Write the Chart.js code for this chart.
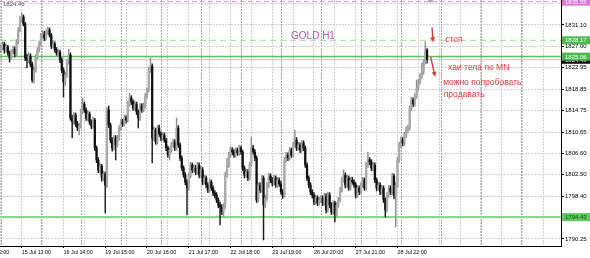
<!DOCTYPE html>
<html>
<head>
<meta charset="utf-8">
<script src="https://cdn.jsdelivr.net/npm/chart.js@4.4.1/dist/chart.umd.min.js"></script>
<style>
  html, body { margin: 0; padding: 0; background: #fff; }
  #chart { display: block; }
</style>
</head>
<body>
<canvas id="chart" width="590" height="258"></canvas>
<script>
// GOLD H1 candles, one per hour
const opens = [
  1826.20, 1826.70, 1827.46, 1826.32, 1826.89, 1825.75, 1824.79, 1825.94, 1826.51, 1825.55,
  1827.84, 1830.13, 1832.04, 1832.62, 1831.28, 1824.79, 1824.41, 1825.17, 1823.65, 1820.59,
  1822.50, 1824.98, 1826.32, 1827.46, 1828.99, 1829.37, 1828.61, 1829.75, 1830.13, 1829.18,
  1827.08, 1827.46, 1826.32, 1825.75, 1825.94, 1824.41, 1822.50, 1820.21, 1821.55, 1824.03,
  1825.36, 1813.34, 1812.58, 1813.91, 1812.20, 1811.43, 1811.81, 1814.49, 1816.01, 1814.87,
  1813.34, 1814.10, 1812.58, 1811.81, 1812.96, 1807.62, 1805.33, 1803.42, 1804.18, 1801.89,
  1802.65, 1800.55, 1814.87, 1812.00, 1809.14, 1807.62, 1809.52, 1808.19, 1809.52, 1811.43,
  1812.58, 1812.20, 1813.34, 1812.96, 1816.01, 1817.16, 1816.39, 1815.25, 1816.01, 1814.49,
  1813.34, 1815.63, 1814.87, 1815.63, 1817.54, 1818.68, 1822.50, 1823.26, 1809.52, 1811.05,
  1808.76, 1811.43, 1810.29, 1809.52, 1810.10, 1809.14, 1807.62, 1806.28, 1807.23, 1808.19,
  1808.76, 1807.62, 1811.43, 1808.19, 1805.71, 1803.80, 1802.46, 1801.13, 1799.98, 1802.27,
  1804.37, 1803.42, 1803.80, 1803.04, 1804.37, 1802.46, 1803.42, 1801.13, 1801.89, 1800.55,
  1799.60, 1801.13, 1799.98, 1799.03, 1798.65, 1797.69, 1796.74, 1796.36, 1795.40, 1796.55,
  1802.46, 1804.37, 1806.28, 1807.23, 1806.85, 1806.28, 1807.23, 1806.66, 1807.62, 1806.85,
  1803.80, 1802.46, 1803.04, 1801.89, 1804.37, 1807.62, 1806.85, 1805.71, 1797.69, 1800.55,
  1799.60, 1801.89, 1796.74, 1798.07, 1800.55, 1802.27, 1801.51, 1800.94, 1801.89, 1800.55,
  1801.51, 1800.75, 1799.22, 1798.65, 1805.33, 1806.28, 1805.71, 1807.23, 1806.28, 1808.19,
  1809.14, 1807.62, 1808.19, 1807.23, 1808.57, 1807.62, 1804.37, 1801.89, 1800.55, 1799.22,
  1798.65, 1797.31, 1798.07, 1797.12, 1797.69, 1798.07, 1797.12, 1798.46, 1795.78, 1798.65,
  1796.74, 1795.40, 1797.12, 1795.02, 1796.74, 1797.69, 1799.60, 1801.51, 1802.46, 1800.55,
  1801.89, 1799.98, 1801.51, 1801.13, 1800.55, 1798.65, 1799.98, 1799.22, 1800.55, 1801.51,
  1799.98, 1804.37, 1805.33, 1804.94, 1803.80, 1804.37, 1801.51, 1799.98, 1800.55, 1799.22,
  1799.98, 1797.69, 1795.78, 1798.65, 1799.98, 1799.22, 1802.27, 1798.46, 1800.55, 1805.33,
  1808.19, 1809.14, 1808.57, 1810.10, 1811.05, 1811.43, 1815.25, 1816.78, 1816.01, 1817.54,
  1819.07, 1820.21, 1821.36, 1822.12, 1824.03, 1826.32
];
const highs = [
  1827.30, 1827.90, 1827.80, 1827.50, 1827.20, 1826.10, 1826.40, 1827.10, 1826.90, 1828.30,
  1830.60, 1832.70, 1833.38, 1833.00, 1831.60, 1825.50, 1825.80, 1825.60, 1824.00, 1823.00,
  1825.40, 1826.80, 1828.00, 1829.50, 1830.00, 1829.90, 1830.20, 1830.71, 1830.50, 1829.50,
  1828.00, 1827.90, 1826.80, 1826.50, 1826.30, 1824.80, 1822.90, 1822.10, 1824.50, 1826.51,
  1825.80, 1813.90, 1814.40, 1814.30, 1812.70, 1812.30, 1815.00, 1817.16, 1816.40, 1815.30,
  1814.70, 1814.50, 1813.00, 1813.50, 1813.30, 1808.00, 1805.80, 1804.80, 1804.50, 1803.20,
  1803.00, 1815.40, 1815.63, 1812.40, 1809.60, 1810.00, 1810.00, 1810.00, 1811.90, 1813.10,
  1813.10, 1813.90, 1813.80, 1816.50, 1818.11, 1817.60, 1816.80, 1816.60, 1816.40, 1814.90,
  1816.10, 1816.10, 1816.20, 1818.00, 1819.07, 1823.00, 1824.79, 1823.70, 1811.60, 1811.40,
  1811.90, 1812.00, 1810.70, 1810.60, 1810.50, 1809.50, 1808.00, 1807.70, 1808.70, 1809.30,
  1809.20, 1813.34, 1811.90, 1808.60, 1806.10, 1804.20, 1802.90, 1801.60, 1802.80, 1804.90,
  1804.80, 1804.40, 1804.30, 1804.90, 1804.80, 1804.00, 1803.90, 1802.40, 1802.30, 1801.00,
  1801.70, 1801.50, 1800.40, 1799.50, 1799.10, 1798.10, 1797.30, 1796.80, 1797.00, 1803.00,
  1805.71, 1806.80, 1807.81, 1807.70, 1807.30, 1807.70, 1807.60, 1808.19, 1808.00, 1807.20,
  1804.20, 1803.60, 1803.50, 1804.90, 1809.71, 1808.10, 1807.30, 1806.10, 1801.00, 1801.00,
  1802.40, 1802.30, 1798.60, 1801.00, 1802.80, 1802.70, 1802.00, 1802.40, 1802.30, 1802.00,
  1801.90, 1801.20, 1799.70, 1805.80, 1806.80, 1806.70, 1807.70, 1807.60, 1808.70, 1811.05,
  1809.60, 1808.70, 1808.60, 1809.10, 1809.00, 1808.00, 1804.80, 1802.30, 1801.00, 1799.70,
  1799.10, 1798.60, 1798.50, 1798.20, 1798.60, 1798.50, 1799.00, 1798.90, 1799.20, 1799.10,
  1797.20, 1797.60, 1797.50, 1797.20, 1798.20, 1800.10, 1802.00, 1803.42, 1802.90, 1802.40,
  1802.30, 1802.00, 1802.08, 1801.60, 1801.00, 1800.50, 1800.40, 1801.00, 1802.00, 1801.90,
  1804.90, 1806.85, 1805.80, 1805.40, 1804.90, 1804.80, 1801.90, 1801.10, 1801.00, 1800.50,
  1800.40, 1798.10, 1799.10, 1800.50, 1800.40, 1802.80, 1802.70, 1801.00, 1805.80, 1808.70,
  1809.70, 1809.60, 1810.60, 1811.60, 1812.00, 1815.70, 1817.30, 1817.20, 1818.00, 1820.59,
  1820.70, 1821.80, 1823.84, 1824.50, 1827.90, 1826.60
];
const lows = [
  1825.80, 1826.30, 1825.70, 1825.90, 1825.30, 1824.00, 1824.50, 1825.60, 1825.00, 1825.20,
  1827.50, 1829.80, 1831.60, 1830.90, 1824.30, 1822.90, 1823.90, 1823.10, 1820.20, 1820.00,
  1822.10, 1824.60, 1825.90, 1827.10, 1828.50, 1828.10, 1828.20, 1829.30, 1828.80, 1826.60,
  1826.70, 1825.90, 1825.30, 1825.20, 1823.90, 1822.00, 1817.35, 1819.60, 1821.10, 1823.60,
  1812.90, 1809.52, 1812.10, 1811.70, 1810.90, 1810.10, 1811.40, 1814.10, 1814.40, 1812.90,
  1812.80, 1812.10, 1811.30, 1811.40, 1807.10, 1804.80, 1802.90, 1802.80, 1801.30, 1801.40,
  1795.21, 1800.10, 1811.50, 1808.60, 1807.00, 1807.20, 1805.33, 1807.80, 1809.10, 1811.00,
  1811.70, 1811.80, 1812.40, 1812.60, 1815.60, 1815.90, 1814.80, 1814.80, 1814.00, 1811.43,
  1812.90, 1814.40, 1814.50, 1815.20, 1817.10, 1818.30, 1822.00, 1804.75, 1809.00, 1808.30,
  1808.40, 1809.80, 1809.00, 1809.10, 1808.70, 1807.10, 1805.80, 1805.33, 1806.80, 1807.80,
  1807.10, 1807.20, 1807.70, 1805.20, 1803.30, 1802.00, 1800.60, 1794.83, 1799.50, 1801.90,
  1802.90, 1803.00, 1802.50, 1802.60, 1801.90, 1802.00, 1800.60, 1800.70, 1800.00, 1799.10,
  1799.20, 1799.50, 1798.50, 1798.10, 1797.20, 1796.20, 1792.92, 1794.90, 1794.45, 1796.10,
  1802.00, 1803.90, 1805.80, 1806.30, 1805.80, 1805.90, 1806.20, 1806.20, 1806.40, 1803.30,
  1801.90, 1802.00, 1801.40, 1801.50, 1804.00, 1806.40, 1805.20, 1797.20, 1797.30, 1799.10,
  1799.20, 1790.06, 1796.20, 1797.60, 1800.10, 1801.00, 1800.40, 1800.50, 1800.10, 1800.10,
  1800.30, 1798.80, 1798.00, 1798.20, 1804.90, 1805.20, 1805.30, 1805.80, 1805.90, 1807.80,
  1807.10, 1807.20, 1806.70, 1806.80, 1807.10, 1803.90, 1801.40, 1800.00, 1798.70, 1798.10,
  1796.80, 1796.90, 1796.60, 1796.70, 1797.20, 1796.60, 1796.70, 1795.20, 1795.40, 1796.20,
  1794.90, 1795.00, 1793.49, 1794.60, 1796.30, 1797.30, 1799.20, 1801.10, 1800.00, 1800.10,
  1799.50, 1799.60, 1800.70, 1800.10, 1798.10, 1798.20, 1798.70, 1798.80, 1800.10, 1799.50,
  1799.60, 1803.90, 1804.40, 1803.30, 1803.30, 1801.00, 1799.40, 1799.50, 1798.70, 1798.80,
  1797.20, 1794.45, 1795.40, 1798.20, 1798.70, 1798.80, 1797.90, 1792.54, 1800.10, 1804.90,
  1807.70, 1808.00, 1808.10, 1809.60, 1810.50, 1811.00, 1814.80, 1815.50, 1815.60, 1817.10,
  1818.60, 1819.80, 1820.90, 1821.70, 1823.60, 1823.80
];
const closes = [
  1826.70, 1827.46, 1826.32, 1826.89, 1825.75, 1824.79, 1825.94, 1826.51, 1825.55, 1827.84,
  1830.13, 1832.04, 1832.62, 1831.28, 1824.79, 1824.41, 1825.17, 1823.65, 1820.59, 1822.50,
  1824.98, 1826.32, 1827.46, 1828.99, 1829.37, 1828.61, 1829.75, 1830.13, 1829.18, 1827.08,
  1827.46, 1826.32, 1825.75, 1825.94, 1824.41, 1822.50, 1820.21, 1821.55, 1824.03, 1825.36,
  1813.34, 1812.58, 1813.91, 1812.20, 1811.43, 1811.81, 1814.49, 1816.01, 1814.87, 1813.34,
  1814.10, 1812.58, 1811.81, 1812.96, 1807.62, 1805.33, 1803.42, 1804.18, 1801.89, 1802.65,
  1800.55, 1814.87, 1812.00, 1809.14, 1807.62, 1809.52, 1808.19, 1809.52, 1811.43, 1812.58,
  1812.20, 1813.34, 1812.96, 1816.01, 1817.16, 1816.39, 1815.25, 1816.01, 1814.49, 1813.34,
  1815.63, 1814.87, 1815.63, 1817.54, 1818.68, 1822.50, 1823.26, 1809.52, 1811.05, 1808.76,
  1811.43, 1810.29, 1809.52, 1810.10, 1809.14, 1807.62, 1806.28, 1807.23, 1808.19, 1808.76,
  1807.62, 1811.43, 1808.19, 1805.71, 1803.80, 1802.46, 1801.13, 1799.98, 1802.27, 1804.37,
  1803.42, 1803.80, 1803.04, 1804.37, 1802.46, 1803.42, 1801.13, 1801.89, 1800.55, 1799.60,
  1801.13, 1799.98, 1799.03, 1798.65, 1797.69, 1796.74, 1796.36, 1795.40, 1796.55, 1802.46,
  1804.37, 1806.28, 1807.23, 1806.85, 1806.28, 1807.23, 1806.66, 1807.62, 1806.85, 1803.80,
  1802.46, 1803.04, 1801.89, 1804.37, 1807.62, 1806.85, 1805.71, 1797.69, 1800.55, 1799.60,
  1801.89, 1796.74, 1798.07, 1800.55, 1802.27, 1801.51, 1800.94, 1801.89, 1800.55, 1801.51,
  1800.75, 1799.22, 1798.65, 1805.33, 1806.28, 1805.71, 1807.23, 1806.28, 1808.19, 1809.14,
  1807.62, 1808.19, 1807.23, 1808.57, 1807.62, 1804.37, 1801.89, 1800.55, 1799.22, 1798.65,
  1797.31, 1798.07, 1797.12, 1797.69, 1798.07, 1797.12, 1798.46, 1795.78, 1798.65, 1796.74,
  1795.40, 1797.12, 1795.02, 1796.74, 1797.69, 1799.60, 1801.51, 1802.46, 1800.55, 1801.89,
  1799.98, 1801.51, 1801.13, 1800.55, 1798.65, 1799.98, 1799.22, 1800.55, 1801.51, 1799.98,
  1804.37, 1805.33, 1804.94, 1803.80, 1804.37, 1801.51, 1799.98, 1800.55, 1799.22, 1799.98,
  1797.69, 1795.78, 1798.65, 1799.98, 1799.22, 1802.27, 1798.46, 1800.55, 1805.33, 1808.19,
  1809.14, 1808.57, 1810.10, 1811.05, 1811.43, 1815.25, 1816.78, 1816.01, 1817.54, 1819.07,
  1820.21, 1821.36, 1822.12, 1824.03, 1826.32, 1824.46
];

// time axis: bar index of each label and its text
const xLabelIndex = [-12, 12, 36, 60, 84, 108, 132, 156, 180, 204, 228];
const xLabelText = ["14 Jul 12:00", "15 Jul 13:00", "16 Jul 14:00", "19 Jul 15:00", "20 Jul 16:00",
  "21 Jul 17:00", "22 Jul 18:00", "23 Jul 19:00", "26 Jul 20:00", "27 Jul 21:00", "28 Jul 22:00"];
// first bar of each trading day
const daySeparators = [0, 23, 46, 69, 92, 115, 138, 161, 184, 207, 230, 253, 276, 299];

// price axis
const yTicks = [1790.25, 1794.35, 1798.40, 1802.50, 1806.60, 1810.65, 1814.75, 1818.85, 1822.95, 1827.00, 1831.10, 1835.20];
const yTicksHidden = [1794.35, 1835.20];

// horizontal levels drawn on the chart
const levelPrices = [1835.55, 1828.17, 1825.06, 1794.43];
const bidPrice = 1824.46;

const X_MIN = -0.5, X_MAX = 322;
const Y_MIN = 1788.91, Y_MAX = 1835.86;
const RED = '#e03838';

const levelStyles = [
  { color: '#e38de3', width: 1, dash: [5, 3] },
  { color: '#9fd99f', width: 1, dash: [6, 4] },
  { color: '#5cbf5c', width: 1.5, dash: [] },
  { color: '#8ad88a', width: 2, dash: [] },
];
const labelStyles = [
  { bg: '#de6fde', fg: '#ffffff' },
  { bg: '#4cbb4c', fg: '#ffffff' },
  { bg: '#4cbb4c', fg: '#ffffff' },
  { bg: '#5cca5c', fg: '#1a3a1a' },
];

const isUp = closes.map((c, i) => c >= opens[i]);
const wickData = closes.map((c, i) => ({ x: i, y: [lows[i], highs[i]] }));
const bodyData = closes.map((c, i) => ({ x: i, y: [Math.min(opens[i], c), Math.max(opens[i], c)] }));

const levelSets = levelPrices.map((p, k) => ({
  type: 'line',
  data: [{ x: X_MIN, y: p }, { x: X_MAX, y: p }],
  borderColor: levelStyles[k].color,
  borderWidth: levelStyles[k].width,
  borderDash: levelStyles[k].dash,
  pointRadius: 0,
  order: 5,
}));
levelSets.push({
  type: 'line',
  data: [{ x: X_MIN, y: bidPrice }, { x: X_MAX, y: bidPrice }],
  borderColor: '#c8c8c8',
  borderWidth: 1,
  pointRadius: 0,
  order: 6,
});

const notes = [
  { text: 'GOLD H1', i: 166.8, p: 1829.0, color: '#c24fb0', size: 10 },
  { text: 'стоп', i: 255.4, p: 1828.25, color: RED, size: 8.5 },
  { text: 'хаи тела по MN', i: 257.1, p: 1823.0, color: RED, size: 8.5 },
  { text: 'можно попробовать', i: 254.3, p: 1820.05, color: RED, size: 8.5 },
  { text: 'продавать', i: 254.6, p: 1817.75, color: RED, size: 8.5 },
];
const arrows = [
  { i1: 247.9, p1: 1830.6, i2: 248.4, p2: 1827.8 },
  { i1: 247.1, p1: 1825.0, i2: 249.6, p2: 1821.2 },
];

function drawArrow(ctx, x1, y1, x2, y2) {
  const a = Math.atan2(y2 - y1, x2 - x1);
  const c = Math.cos(a), s = Math.sin(a);
  ctx.strokeStyle = RED;
  ctx.fillStyle = RED;
  ctx.lineWidth = 1.4;
  ctx.beginPath();
  ctx.moveTo(x1, y1);
  ctx.lineTo(x2 - 3 * c, y2 - 3 * s);
  ctx.stroke();
  ctx.beginPath();
  ctx.moveTo(x2, y2);
  ctx.lineTo(x2 - 5 * c + 2.4 * s, y2 - 5 * s - 2.4 * c);
  ctx.lineTo(x2 - 5 * c - 2.4 * s, y2 - 5 * s + 2.4 * c);
  ctx.closePath();
  ctx.fill();
}

const overlay = {
  id: 'overlay',
  beforeDatasetsDraw(chart) {
    const { ctx, chartArea: a, scales: { x } } = chart;
    ctx.save();
    ctx.strokeStyle = '#a8a8a8';
    ctx.lineWidth = 1;
    ctx.setLineDash([2, 1]);
    daySeparators.forEach(d => {
      const px = Math.round(x.getPixelForValue(d)) + 0.5;
      ctx.beginPath();
      ctx.moveTo(px, a.top);
      ctx.lineTo(px, a.bottom);
      ctx.stroke();
    });
    ctx.restore();
  },
  afterDraw(chart) {
    const { ctx, chartArea: a, scales: { x, y } } = chart;
    ctx.save();

    // price boxes on the right axis
    ctx.font = '6px "Liberation Sans"';
    ctx.textBaseline = 'middle';
    ctx.textAlign = 'left';
    const box = (p, bg, fg) => {
      const py = y.getPixelForValue(p);
      ctx.fillStyle = bg;
      ctx.fillRect(a.right + 1, py - 4, 28, 8);
      ctx.fillStyle = fg;
      ctx.fillText(p.toFixed(2), a.right + 4, py + 0.5);
    };
    box(bidPrice, '#000000', '#ffffff');
    levelPrices.forEach((p, k) => box(p, labelStyles[k].bg, labelStyles[k].fg));

    // top-left price tag
    ctx.fillStyle = '#555555';
    ctx.fillText(bidPrice.toFixed(2), a.left + 3, a.top + 4);

    // chart shift marker
    const sx = x.getPixelForValue(247);
    ctx.fillStyle = '#a8a8a8';
    ctx.beginPath();
    ctx.moveTo(sx - 3, a.top);
    ctx.lineTo(sx + 3, a.top);
    ctx.lineTo(sx, a.top + 3);
    ctx.closePath();
    ctx.fill();

    // text notes
    notes.forEach(n => {
      ctx.font = n.size + 'px "Liberation Sans"';
      ctx.fillStyle = n.color;
      ctx.fillText(n.text, x.getPixelForValue(n.i), y.getPixelForValue(n.p));
    });
    arrows.forEach(r => drawArrow(ctx,
      x.getPixelForValue(r.i1), y.getPixelForValue(r.p1),
      x.getPixelForValue(r.i2), y.getPixelForValue(r.p2)));
    ctx.restore();
  }
};

const config = {
  type: 'bar',
  data: {
    datasets: [
      ...levelSets,
      {
        label: 'wick',
        data: wickData,
        backgroundColor: isUp.map(u => (u ? '#8f8f8f' : '#1c1c1c')),
        barThickness: 0.8,
        grouped: false,
        order: 2,
      },
      {
        label: 'body',
        data: bodyData,
        backgroundColor: isUp.map(u => (u ? '#a9a9a9' : '#111111')),
        barThickness: 1.6,
        minBarLength: 1,
        grouped: false,
        order: 1,
      },
    ],
  },
  options: {
    responsive: false,
    animation: false,
    events: [],
    layout: { padding: 0 },
    plugins: {
      legend: { display: false },
      tooltip: { enabled: false },
    },
    scales: {
      x: {
        type: 'linear',
        min: X_MIN,
        max: X_MAX,
        bounds: 'data',
        offset: false,
        afterBuildTicks: (s) => {
          const t = [];
          for (let v = -12; v <= 312; v += 12) t.push({ value: v });
          s.ticks = t;
        },
        afterFit: (s) => {
          s.height = 12;
          s.paddingLeft = 0;
          s.paddingRight = 0;
        },
        grid: {
          offset: false,
          color: '#d0d0d0',
          lineWidth: 1,
          tickLength: 2,
          tickColor: (c) => (c.tick && xLabelIndex.includes(c.tick.value) ? '#000000' : 'rgba(0,0,0,0)'),
        },
        border: { display: true, color: '#000000', width: 1, dash: [2, 1] },
        ticks: {
          autoSkip: false,
          maxRotation: 0,
          align: 'start',
          padding: 1,
          color: '#000000',
          font: { family: 'Liberation Sans', size: 5.4 },
          callback: (v) => {
            const k = xLabelIndex.indexOf(v);
            return k >= 0 ? xLabelText[k] : '';
          },
        },
      },
      y: {
        type: 'linear',
        position: 'right',
        min: Y_MIN,
        max: Y_MAX,
        bounds: 'data',
        beginAtZero: false,
        afterBuildTicks: (s) => {
          s.ticks = yTicks.map(v => ({ value: v }));
        },
        afterFit: (s) => {
          s.width = 29;
          s.paddingTop = 0;
          s.paddingBottom = 0;
        },
        grid: {
          color: '#d0d0d0',
          lineWidth: 1,
          tickLength: 3,
          tickColor: '#000000',
        },
        border: { display: true, color: '#000000', width: 1, dash: [2, 1] },
        ticks: {
          padding: 1,
          color: '#000000',
          font: { family: 'Liberation Sans', size: 6 },
          callback: (v) => (yTicksHidden.includes(v) ? '' : v.toFixed(2)),
        },
      },
    },
  },
  plugins: [overlay],
};

const myChart = new Chart(document.getElementById('chart'), config);
</script>
</body>
</html>
